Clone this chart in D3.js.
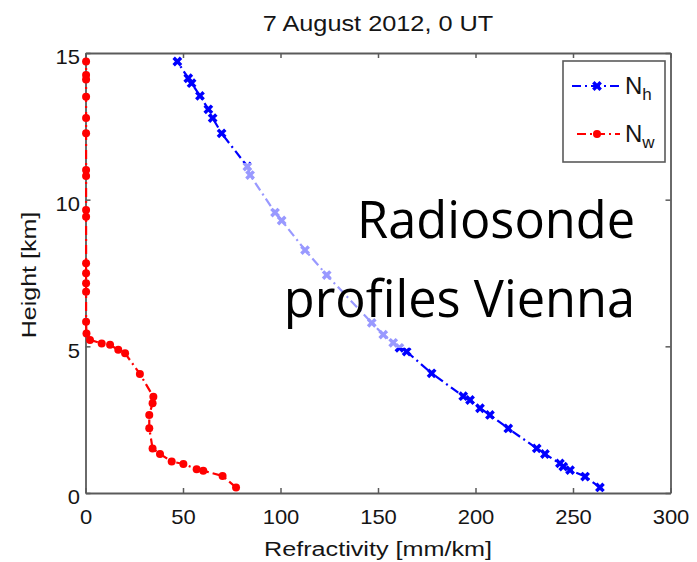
<!DOCTYPE html>
<html>
<head>
<meta charset="utf-8">
<script src="https://cdn.jsdelivr.net/npm/d3@7"></script>
<style>
  body { margin: 0; background: #fff; }
  text { font-family: "Liberation Sans", Arial, sans-serif; }
</style>
</head>
<body>
<div id="chart"></div>
<script>
// N_h profile: [refractivity, height]
const nhRefr = [263.8,256.2,248.5,245,243.3,235.6,231.4,216.8,207.4,202.3,197.2,193.7,177.5,164.7,161,157.8,152.7,146.8,123.7,112.6,100.6,97.2,84.4,83.0,69.8,65.2,63.0,58.7,54.4,52.7,47.1]
const nhHeight = [0.19,0.56,0.78,0.9,1.01,1.33,1.52,2.20,2.66,2.89,3.17,3.30,4.08,4.82,4.95,5.12,5.40,5.80,7.43,8.28,9.29,9.56,10.84,11.13,12.26,12.78,13.08,13.54,13.97,14.14,14.71]

// N_w profile
const nwRefr = [77.2,70.3,60.4,57.0,50.2,44.2,38.2,34.4,32.7,32.7,34.4,34.8,27.9,20.3,16.8,12.6,8.3,2.3,0.5,0.3,0.3,0.3,0.3,0.3,0.3,0.3,0.3,0.3,0.3,0.3,0.3,0.3,0.3,0.3]
const nwHeight = [0.19,0.58,0.76,0.81,0.99,1.07,1.33,1.52,2.21,2.66,3.06,3.28,4.06,4.76,4.88,5.05,5.10,5.22,5.44,5.84,6.86,7.15,7.49,7.83,9.42,9.65,10.81,11.01,12.26,12.78,13.51,14.10,14.25,14.71]

const xTicks = [0,50,100,150,200,250,300]
const yTicks = [0,5,10,15]

const width = 697
const height = 562
const margin = {left:85.5, right:26.5, top:53, bottom:69}

const svg = d3.select("#chart").append("svg")
  .attr("width",width)
  .attr("height",height)

const x = d3.scaleLinear().domain([0,300]).range([margin.left,width-margin.right])
const y = d3.scaleLinear().domain([0,15]).range([height-margin.bottom,margin.top])

const axisColor = "#5a5a5a"
const textColor = "#151515"

/* axes, matlab style box with inward ticks */
const tickLen = 5
const gx = svg.append("g").attr("transform",`translate(0,${y(0)})`)
  .call(d3.axisBottom(x).tickValues(xTicks).tickSizeInner(-tickLen).tickSizeOuter(0).tickPadding(17))
const gxTop = svg.append("g").attr("transform",`translate(0,${y(15)})`)
  .call(d3.axisTop(x).tickValues(xTicks).tickSizeInner(-tickLen).tickSizeOuter(0).tickFormat(""))
const gy = svg.append("g").attr("transform",`translate(${x(0)},0)`)
  .call(d3.axisLeft(y).tickValues(yTicks).tickSizeInner(-tickLen).tickSizeOuter(0).tickPadding(5))
const gyRight = svg.append("g").attr("transform",`translate(${x(300)},0)`)
  .call(d3.axisRight(y).tickValues(yTicks).tickSizeInner(-tickLen).tickSizeOuter(0).tickFormat(""))

;[gx,gxTop,gy,gyRight].forEach(g=>{
  g.selectAll("path").attr("stroke",axisColor).attr("stroke-width",1.8)
  g.selectAll("line").attr("stroke",axisColor).attr("stroke-width",1.5)
  g.selectAll("text").attr("fill",textColor).style("font-size","20px")
    .attr("transform","scale(1.1,1)")
})
gx.selectAll("text").attr("dy","0.71em")
gy.selectAll("text").attr("dy","0.54em")

/* profiles */
const nh = nhRefr.map((v,i)=>({v,h:nhHeight[i]}))
const nw = nwRefr.map((v,i)=>({v,h:nwHeight[i]}))

const line = d3.line().x(d=>x(d.v)).y(d=>y(d.h))

svg.append("path").datum(nw)
  .attr("d",line)
  .attr("fill","none")
  .attr("stroke","#ff0000")
  .attr("stroke-width",2.2)
  .attr("stroke-dasharray","9,4,2,4")

svg.append("g").selectAll("circle")
  .data(nw).enter().append("circle")
  .attr("cx",d=>x(d.v))
  .attr("cy",d=>y(d.h))
  .attr("r",4)
  .attr("fill","#ff0000")

svg.append("path").datum(nh)
  .attr("d",line)
  .attr("fill","none")
  .attr("stroke","#0000ff")
  .attr("stroke-width",2.2)
  .attr("stroke-dasharray","9,4,2,4")

const cross = d3.symbol().type(d3.symbolCross).size(60)
svg.append("g").selectAll("path")
  .data(nh).enter().append("path")
  .attr("d",cross)
  .attr("transform",d=>`translate(${x(d.v)},${y(d.h)}) rotate(45)`)
  .attr("fill","#0000ff")

/* legend */
const legend = svg.append("g")
legend.append("rect")
  .attr("x",563).attr("y",61).attr("width",102).attr("height",101)
  .attr("fill","#fff").attr("stroke",axisColor).attr("stroke-width",1.6)

const legendItems = [
  {color:"#0000ff", sub:"h", y:86, x1:572, marker:"x"},
  {color:"#ff0000", sub:"w", y:134, x1:577, marker:"o"}
]
legendItems.forEach(it=>{
  legend.append("line")
    .attr("x1",it.x1).attr("x2",620).attr("y1",it.y).attr("y2",it.y)
    .attr("stroke",it.color).attr("stroke-width",2.2)
    .attr("stroke-dasharray","9,4,2,4")
  if(it.marker=="x"){
    legend.append("path").attr("d",cross)
      .attr("transform",`translate(597,${it.y}) rotate(45)`)
      .attr("fill",it.color)
  }else{
    legend.append("circle").attr("cx",597).attr("cy",it.y).attr("r",4).attr("fill",it.color)
  }
  const t = legend.append("text").attr("x",625).attr("y",it.y+8)
    .attr("fill",textColor).style("font-size","24px")
  t.append("tspan").text("N")
  t.append("tspan").attr("dy",6).style("font-size","17px").text(it.sub)
})

/* titles */
svg.append("text")
  .attr("transform",`translate(${x(150)},31) scale(1.15,1)`)
  .attr("text-anchor","middle")
  .attr("fill",textColor)
  .style("font-size","22px")
  .text("7 August 2012, 0 UT")

svg.append("text")
  .attr("transform",`translate(${x(150)},556) scale(1.2,1)`)
  .attr("text-anchor","middle")
  .attr("fill",textColor)
  .style("font-size","21px")
  .text("Refractivity [mm/km]")

svg.append("text")
  .attr("transform",`translate(36,275) rotate(-90) scale(1.19,1)`)
  .attr("text-anchor","middle")
  .attr("fill",textColor)
  .style("font-size","21px")
  .text("Height [km]")

/* slide annotation over the plot */
svg.append("rect")
  .attr("x",240).attr("y",163).attr("width",420).attr("height",185)
  .attr("fill","#fff").attr("opacity",0.6)

const note = svg.append("text")
  .attr("text-anchor","end")
  .attr("fill","#000")
  .style("font-family","'Open Sans', sans-serif")
  .style("font-size","50.5px")
note.append("tspan").attr("x",635).attr("y",238).text("Radiosonde")
note.append("tspan").attr("x",635).attr("y",317).text("profiles Vienna")
</script>
</body>
</html>
